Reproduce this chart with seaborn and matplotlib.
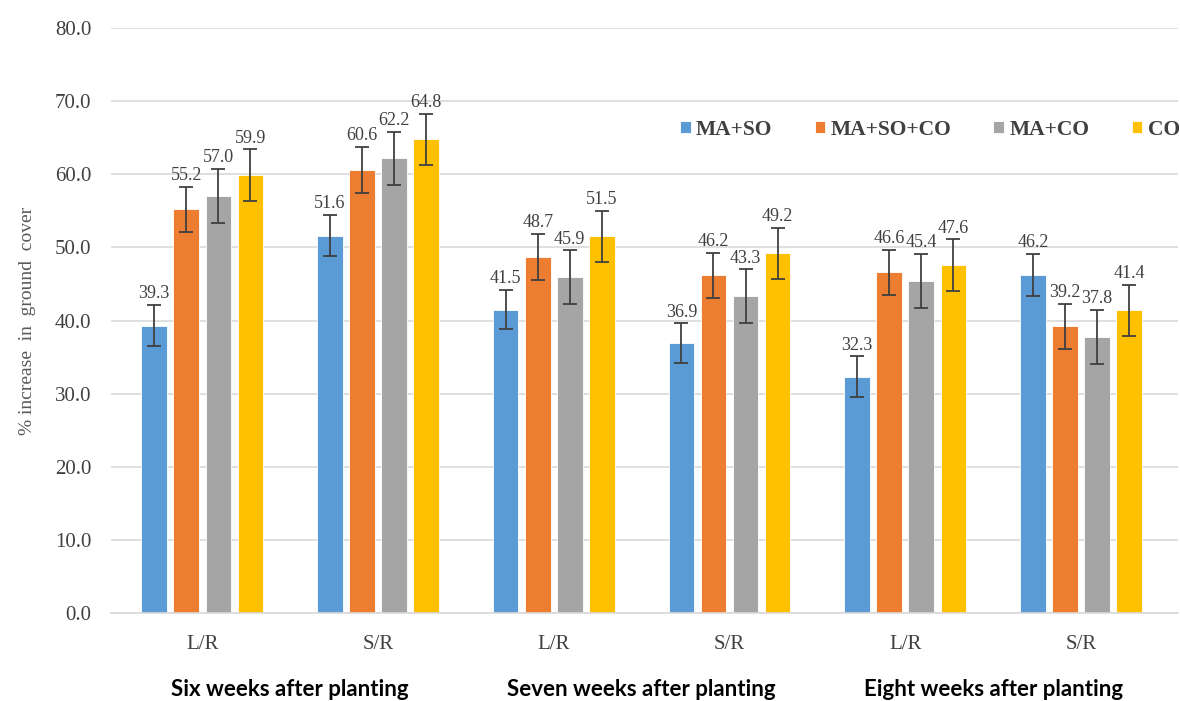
import pandas as pd
import numpy as np
import matplotlib
matplotlib.use('Agg')
import matplotlib.pyplot as plt
import matplotlib.transforms as mtransforms
import seaborn as sns

# data
slots = ['6 L/R', '6 S/R', '7 L/R', '7 S/R', '8 L/R', '8 S/R']
slot_labels = ['L/R', 'S/R', 'L/R', 'S/R', 'L/R', 'S/R']
group_labels = ['Six weeks after planting', 'Seven weeks after planting', 'Eight weeks after planting']
treatments = ['MA+SO', 'MA+SO+CO', 'MA+CO', 'CO']

ma_so = [39.3, 51.6, 41.5, 36.9, 32.3, 46.2]
ma_so_co = [55.2, 60.6, 48.7, 46.2, 46.6, 39.2]
ma_co = [57.0, 62.2, 45.9, 43.3, 45.4, 37.8]
co = [59.9, 64.8, 51.5, 49.2, 47.6, 41.4]

err_ma_so = [2.8, 2.8, 2.7, 2.7, 2.8, 2.9]
err_ma_so_co = [3.1, 3.1, 3.1, 3.1, 3.1, 3.1]
err_ma_co = [3.7, 3.6, 3.7, 3.7, 3.7, 3.7]
err_co = [3.5, 3.5, 3.5, 3.5, 3.5, 3.5]

colors = ['#5B9BD5', '#ED7D31', '#A5A5A5', '#FFC000']

values = [ma_so, ma_so_co, ma_co, co]
errors = [err_ma_so, err_ma_so_co, err_ma_co, err_co]

df = pd.DataFrame({
    'slot': slots * len(treatments),
    'treatment': np.repeat(treatments, len(slots)),
    'value': sum(values, []),
})

sns.set_style('white')
plt.rcParams['font.family'] = ['Liberation Serif', 'DejaVu Serif']

fig = plt.figure(figsize=(11.8, 7.01), dpi=100)
ax = fig.add_axes([0.094, 0.1255, 0.904, 0.8345])

sns.barplot(data=df, x='slot', y='value', hue='treatment', order=slots,
            hue_order=treatments, palette=colors, width=0.73, gap=0.2,
            errorbar=None, saturation=1, edgecolor='white', linewidth=0.6,
            ax=ax, zorder=2)

for cont, vals, errs in zip(ax.containers, values, errors):
    for bar, v, e in zip(cont, vals, errs):
        cx = bar.get_x() + bar.get_width() / 2
        ax.errorbar(cx, v, yerr=e, color='#404040', lw=1.3, capsize=5,
                    capthick=1.3, zorder=3)
        ax.annotate(f'{v:.1f}', (cx, v + e), xytext=(0, 2),
                    textcoords='offset points', ha='center', va='bottom',
                    fontsize=13, color='#404040')

ax.set_ylim(0, 80)
ax.set_xlim(-0.52, 5.55)
ax.set_yticks(np.arange(0, 81, 10))
ax.set_yticklabels([f'{t:.1f}' for t in np.arange(0, 81, 10)], fontsize=15, color='#404040')
ax.set_xticks(range(len(slots)))
ax.set_xticklabels(slot_labels, fontsize=15, color='#404040')
ax.tick_params(axis='x', pad=16, length=0)
ax.tick_params(axis='y', pad=14, length=0)
ax.yaxis.grid(True, color='#D9D9D9', lw=1.2, zorder=0)
ax.set_axisbelow(True)
for s in ['top', 'right', 'left']:
    ax.spines[s].set_visible(False)
ax.spines['bottom'].set_color('#D9D9D9')
ax.spines['bottom'].set_linewidth(1.2)

ax.set_xlabel('')
ax.set_ylabel('% increase  in  ground  cover', fontsize=14, color='#595959', labelpad=14)

trans = mtransforms.blended_transform_factory(ax.transData, fig.transFigure)
for i, g in enumerate(group_labels):
    ax.text(2 * i + 0.5, 1 - 690 / 701, g, transform=trans, ha='center', va='center',
            fontsize=16, fontweight='bold', family=['Lato', 'DejaVu Sans'], color='black')

handles, labels = ax.get_legend_handles_labels()
ax.legend(handles, labels, loc='center left', bbox_to_anchor=(680 / 1180, 1 - 130 / 701),
          bbox_transform=fig.transFigure, ncol=4, frameon=False,
          prop={'weight': 'bold', 'size': 15.5, 'family': 'Liberation Serif'},
          handlelength=0.5, handleheight=0.5, handletextpad=0.25, columnspacing=1.95,
          labelcolor='#404040', borderaxespad=0, borderpad=0)

fig.savefig('out.png', dpi=100, facecolor='white')
